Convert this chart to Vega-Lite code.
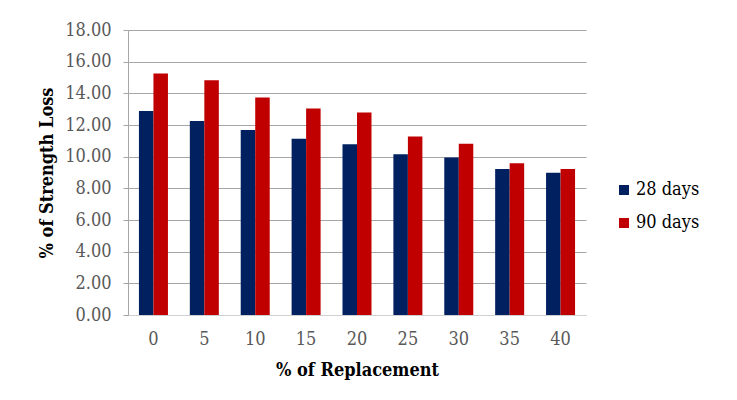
{
  "$schema": "https://vega.github.io/schema/vega-lite/v6.json",
  "autosize": {"type": "none"},
  "width": 458,
  "height": 285,
  "padding": {"left": 128, "top": 30, "right": 151, "bottom": 85},
  "background": "white",
  "data": {
    "values": [
      {"replacement": "0", "age": "28 days", "loss": 12.88},
      {"replacement": "0", "age": "90 days", "loss": 15.25},
      {"replacement": "5", "age": "28 days", "loss": 12.25},
      {"replacement": "5", "age": "90 days", "loss": 14.83},
      {"replacement": "10", "age": "28 days", "loss": 11.68},
      {"replacement": "10", "age": "90 days", "loss": 13.74},
      {"replacement": "15", "age": "28 days", "loss": 11.13},
      {"replacement": "15", "age": "90 days", "loss": 13.05},
      {"replacement": "20", "age": "28 days", "loss": 10.78},
      {"replacement": "20", "age": "90 days", "loss": 12.79},
      {"replacement": "25", "age": "28 days", "loss": 10.15},
      {"replacement": "25", "age": "90 days", "loss": 11.28},
      {"replacement": "30", "age": "28 days", "loss": 9.94},
      {"replacement": "30", "age": "90 days", "loss": 10.82},
      {"replacement": "35", "age": "28 days", "loss": 9.22},
      {"replacement": "35", "age": "90 days", "loss": 9.58},
      {"replacement": "40", "age": "28 days", "loss": 8.99},
      {"replacement": "40", "age": "90 days", "loss": 9.22}
    ]
  },
  "mark": {"type": "bar"},
  "encoding": {
    "x": {
      "field": "replacement",
      "type": "ordinal",
      "sort": ["0", "5", "10", "15", "20", "25", "30", "35", "40"],
      "scale": {"paddingInner": 0.43, "paddingOuter": 0.215},
      "axis": {
        "title": "% of Replacement",
        "labelAngle": 0,
        "ticks": false,
        "grid": false,
        "domainColor": "#d0d0d0",
        "labelPadding": 15,
        "titlePadding": 13
      }
    },
    "xOffset": {"field": "age", "type": "nominal"},
    "y": {
      "field": "loss",
      "type": "quantitative",
      "scale": {"domain": [0, 18]},
      "axis": {
        "title": "% of Strength Loss",
        "values": [0, 2, 4, 6, 8, 10, 12, 14, 16, 18],
        "format": ".2f",
        "tickSize": 5,
        "tickColor": "#a6a6a6",
        "domainColor": "#a6a6a6",
        "gridColor": "#a6a6a6",
        "labelPadding": 12,
        "titlePadding": 8
      }
    },
    "color": {
      "field": "age",
      "type": "nominal",
      "scale": {"domain": ["28 days", "90 days"], "range": ["#002060", "#C00000"]},
      "legend": {
        "title": null,
        "orient": "none",
        "legendX": 487,
        "legendY": 151,
        "symbolType": "square",
        "symbolSize": 100,
        "symbolStrokeWidth": 0,
        "labelOffset": 3,
        "rowPadding": 15,
        "padding": 0
      }
    }
  },
  "config": {
    "view": {"stroke": null},
    "axis": {
      "labelFont": "DejaVu Serif Condensed",
      "titleFont": "DejaVu Serif Condensed",
      "labelFontSize": 18,
      "labelColor": "#595959",
      "titleFontSize": 18,
      "titleFontWeight": "bold",
      "titleColor": "#000000"
    },
    "legend": {
      "labelFont": "DejaVu Serif Condensed",
      "labelFontSize": 18,
      "labelColor": "#000000"
    }
  }
}
